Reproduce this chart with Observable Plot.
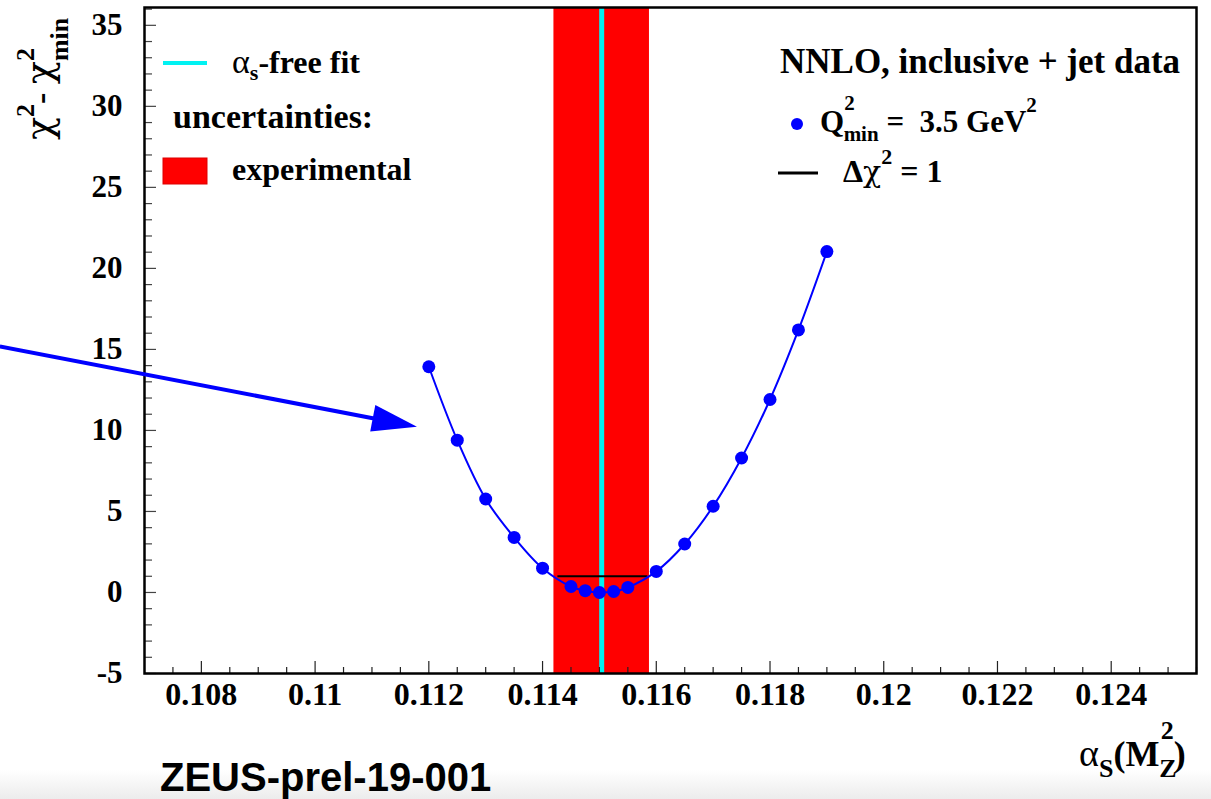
<!DOCTYPE html>
<html><head><meta charset="utf-8">
<script src="https://cdn.jsdelivr.net/npm/d3@7"></script>
<script src="https://cdn.jsdelivr.net/npm/@observablehq/plot@0.6"></script>
<style>
html,body{margin:0;padding:0;background:#fff;overflow:hidden;}
#wrap{position:relative;width:1211px;height:799px;}
</style></head><body><div id="wrap"></div>
<script>
// ---- data ----
const alphaS    = [0.112, 0.1125, 0.113, 0.1135, 0.114, 0.1145, 0.11475, 0.115, 0.11525, 0.1155, 0.116, 0.1165, 0.117, 0.1175, 0.118, 0.1185, 0.119];
const deltaChi2 = [13.93, 9.40, 5.77, 3.40, 1.50, 0.37, 0.11, 0.0, 0.06, 0.31, 1.30, 2.99, 5.32, 8.30, 11.91, 16.20, 21.04];
const expBand   = [0.11420, 0.11588];      // experimental uncertainty band
const freeFit   = [0.11504];               // alpha_s-free fit
const deltaOne  = [{x1: 0.11427, x2: 0.11585, y: 1}];  // Δχ² = 1 line
const arrowStart = [0.104465, 15.15];
const arrowEnd   = [0.1118, 10.2];
const xTickLabels = [0.108, 0.11, 0.112, 0.114, 0.116, 0.118, 0.12, 0.122, 0.124];
const yTickLabels = [-5, 0, 5, 10, 15, 20, 25, 30, 35];
const xDomain = [0.107, 0.1255];
const yDomain = [-5, 36.1];

const points = alphaS.map((a, i) => ({a, c: deltaChi2[i]}));

// minor ticks every 0.0005 and every 1 unit
const xMinorTicks = d3.range(0, 38).map(i => +(0.1075 + i * 0.0005).toFixed(5)).filter(v => v <= 0.1255 && !xTickLabels.some(t => Math.abs(t - v) < 1e-7));
const yMinorTicks = d3.range(-5, 37).filter(v => v % 5 !== 0);

const serif = "'Liberation Serif','Times New Roman',serif";
const greek = "'DejaVu Serif','Liberation Serif',serif";
const W = 1211, H = 799, mL = 144, mR = 15, mT = 7, mB = 126;
const fw = W - mL - mR, fh = H - mT - mB;

function arrowMark(index, scales) {
  const x0 = scales.x(arrowStart[0]), y0 = scales.y(arrowStart[1]);
  const x1 = scales.x(arrowEnd[0]), y1 = scales.y(arrowEnd[1]);
  const ang = Math.atan2(y1 - y0, x1 - x0);
  const L = 45, hw = 13.5;
  const bx = x1 - L * Math.cos(ang), by = y1 - L * Math.sin(ang);
  const g = d3.create("svg:g");
  g.append("line").attr("x1", x0).attr("y1", y0).attr("x2", bx + 4 * Math.cos(ang)).attr("y2", by + 4 * Math.sin(ang))
    .attr("stroke", "#0000ff").attr("stroke-width", 4);
  g.append("path").attr("fill", "#0000ff")
    .attr("d", `M${x1},${y1}L${bx - hw * Math.sin(ang)},${by + hw * Math.cos(ang)}L${bx + hw * Math.sin(ang)},${by - hw * Math.cos(ang)}Z`);
  return g.node();
}

const plot = Plot.plot({
  width: W, height: H,
  marginLeft: mL, marginRight: mR, marginTop: mT, marginBottom: mB,
  x: {domain: xDomain},
  y: {domain: yDomain},
  style: {fontFamily: serif, background: "transparent", overflow: "visible"},
  marks: [
    Plot.rect([expBand], {x1: d => d[0], x2: d => d[1], fill: "#ff0000"}),
    Plot.ruleX(freeFit, {stroke: "#00f2f2", strokeWidth: 5}),
    Plot.ruleY(deltaOne, {y: "y", x1: "x1", x2: "x2", stroke: "black", strokeWidth: 2}),
    Plot.line(points, {x: "a", y: "c", stroke: "#0000ff", strokeWidth: 2, curve: "catmull-rom"}),
    Plot.dot(points, {x: "a", y: "c", r: 6.5, fill: "#0000ff"}),
    Plot.tickX(xTickLabels, {x: d => d, insetTop: fh - 12, stroke: "#222", strokeWidth: 1.2}),
    Plot.tickX(xMinorTicks, {x: d => d, insetTop: fh - 6, stroke: "#222", strokeWidth: 1.2}),
    Plot.tickY(yTickLabels, {y: d => d, insetRight: fw - 12, stroke: "#444", strokeWidth: 1.2}),
    Plot.tickY(yMinorTicks, {y: d => d, insetRight: fw - 8, stroke: "#444", strokeWidth: 1.2}),
    Plot.axisX(xTickLabels, {tickSize: 0, tickPadding: 9, fontSize: 32, fontWeight: "bold", fontFamily: serif, tickFormat: d => String(d), label: null, fill: "black"}),
    Plot.axisY(yTickLabels, {tickSize: 0, tickPadding: 22, fontSize: 31, fontWeight: "bold", fontFamily: serif, tickFormat: d => String(d), label: null, fill: "black"}),
    Plot.frame({stroke: "black", strokeWidth: 2.5}),
    arrowMark
  ]
});
document.getElementById("wrap").appendChild(plot);

// ---- annotations: legends, axis titles, label ----
const svg = d3.select(plot);
const defs = svg.insert("defs", ":first-child");
const grad = defs.append("linearGradient").attr("id", "shade").attr("x1", 0).attr("x2", 0).attr("y1", 0).attr("y2", 1);
grad.append("stop").attr("offset", "0").attr("stop-color", "#ffffff");
grad.append("stop").attr("offset", "1").attr("stop-color", "#ececec");
svg.insert("rect", "defs + *").attr("x", 0).attr("y", 770).attr("width", W).attr("height", 29).attr("fill", "url(#shade)");

const ann = svg.append("g").attr("font-family", serif).attr("font-weight", "bold").attr("fill", "black").attr("text-anchor", "start");
function rich(x, y, parts, opts = {}) {
  const t = ann.append("text").attr("x", x).attr("y", y).attr("text-anchor", opts.anchor || "start");
  if (opts.transform) t.attr("transform", opts.transform).attr("x", 0).attr("y", 0);
  for (const p of parts) {
    const s = t.append("tspan").text(p.t).attr("font-size", p.s || 32);
    if (p.dx) s.attr("dx", p.dx);
    if (p.dy) s.attr("dy", p.dy);
    if (p.w) s.attr("font-weight", p.w);
    if (p.f) s.attr("font-family", p.f);
  }
  return t;
}
// left legend
ann.append("line").attr("x1", 163).attr("x2", 207).attr("y1", 63).attr("y2", 63).attr("stroke", "#00f2f2").attr("stroke-width", 4);
rich(232, 73, [{t: "α", s: 34, w: "normal"}, {t: "s", s: 22, dy: 7}, {t: "-free fit", s: 32, dy: -7}]);
rich(173, 128, [{t: "uncertainties:", s: 34}]);
ann.append("rect").attr("x", 163).attr("y", 158).attr("width", 44).attr("height", 26).attr("fill", "#ff0000").attr("stroke", "#d00").attr("stroke-width", 1);
rich(232, 180, [{t: "experimental", s: 32}]);
// right legend
rich(780, 73, [{t: "NNLO, inclusive + jet data", s: 35}]);
ann.append("circle").attr("cx", 797).attr("cy", 124).attr("r", 6).attr("fill", "#0000ff");
rich(820, 132, [{t: "Q", s: 31}, {t: "2", s: 21, dy: -22}, {t: "min", s: 21, dx: -11, dy: 31}, {t: " =  3.5 GeV", s: 31, dy: -9}, {t: "2", s: 21, dy: -20}]);
ann.append("line").attr("x1", 778).attr("x2", 818).attr("y1", 173).attr("y2", 173).attr("stroke", "black").attr("stroke-width", 3);
rich(843, 182, [{t: "Δ", s: 32}, {t: "χ", s: 30, w: "normal", f: greek}, {t: "2", s: 22, dy: -18}, {t: " = 1", s: 32, dy: 18}]);
// x axis title
rich(1079, 766, [{t: "α", s: 38, w: "normal"}, {t: "S", s: 26, dy: 11}, {t: "(M", s: 36, dy: -11}, {t: "Z", s: 26, dy: 11}, {t: "2", s: 26, dx: -16, dy: -38}, {t: ")", s: 36, dy: 27}]);
// y axis title (rotated)
rich(0, 0, [{t: "χ", s: 38, w: "normal", f: greek}, {t: "2", s: 26, dy: -18}, {t: "- ", s: 34, dy: 18}, {t: "χ", s: 38, w: "normal", f: greek}, {t: "2", s: 26, dy: -18}, {t: "min", s: 26, dx: -13, dy: 34}],
  {transform: "translate(52,140) rotate(-90)"});
// corner label
svg.append("text").attr("x", 160).attr("y", 791).attr("text-anchor", "start").attr("font-family", "'Liberation Sans',Arial,sans-serif")
  .attr("font-weight", "bold").attr("font-size", 40).attr("fill", "black").text("ZEUS-prel-19-001");
</script>
</body></html>
